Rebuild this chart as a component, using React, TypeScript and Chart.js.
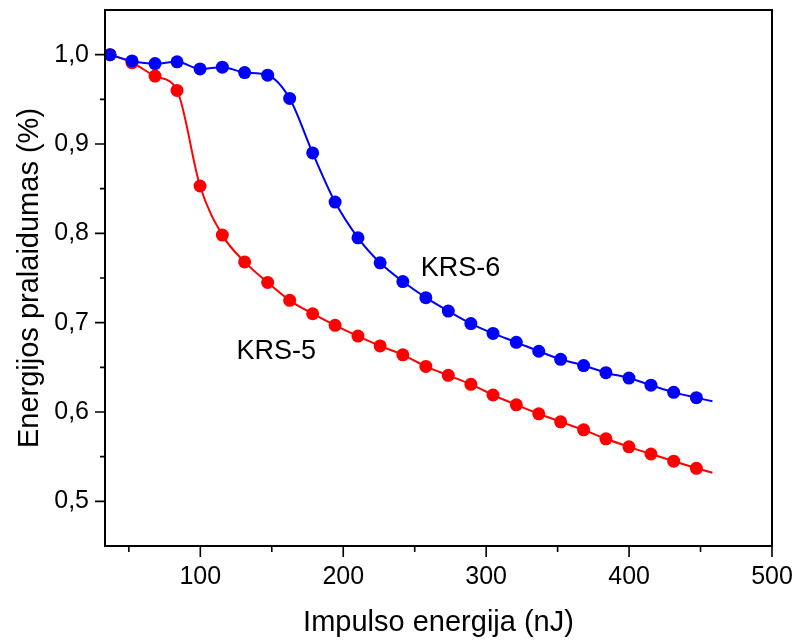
import React, { useEffect, useRef } from "react";
import { Chart, registerables } from "chart.js";

Chart.register(...registerables);

// Data
const energy = [
  36.8, 52.2, 68.3, 83.7, 99.8, 115.4, 131.0, 147.1, 162.5, 178.6, 194.3, 210.3, 225.8, 241.7,
  257.8, 273.5, 289.3, 304.8, 321.1, 336.8, 352.1, 368.2, 383.8, 399.9, 415.3, 431.2, 447.1,
];
const krs6 = [
  1.0, 0.993, 0.99, 0.992, 0.984, 0.986, 0.98, 0.977, 0.951, 0.89, 0.835, 0.795, 0.767, 0.746,
  0.728, 0.713, 0.699, 0.688, 0.678, 0.668, 0.659, 0.652, 0.644, 0.638, 0.63, 0.622, 0.616,
];
const krs5 = [
  1.0, 0.991, 0.976, 0.96, 0.853, 0.798, 0.768, 0.745, 0.725, 0.71, 0.697, 0.685, 0.674, 0.664,
  0.651, 0.641, 0.631, 0.619, 0.608, 0.598, 0.589, 0.58, 0.57, 0.561, 0.553, 0.545, 0.537,
];
// end of the fitted curves (beyond the last marker)
const curveEndX = 458.3;
const krs6CurveEnd = 0.612;
const krs5CurveEnd = 0.532;

const xMajorTicks = [100, 200, 300, 400, 500];
const xMinorTicks = [50, 150, 250, 350, 450];
const yMajorTicks = [0.5, 0.6, 0.7, 0.8, 0.9, 1.0];
const yMinorTicks = [0.55, 0.65, 0.75, 0.85, 0.95];

const seriesLabels = [
  { text: "KRS-6", x: 282.1, y: 0.7606 },
  { text: "KRS-5", x: 153.2, y: 0.6678 },
];

const FONT = "'Liberation Sans', Arial, sans-serif";

export default function App() {
  const ref = useRef<HTMLCanvasElement | null>(null);

  useEffect(() => {
    if (!ref.current) return;
    const pts = (ys: number[]) => energy.map((x, i) => ({ x, y: ys[i] }));
    const curve = (ys: number[], endY: number) => [...pts(ys), { x: curveEndX, y: endY }];

    const framePlugin = {
      id: "frameTicks",
      afterDraw(chart: any) {
        const { ctx, chartArea: a, scales } = chart;
        const xs = scales.x;
        const ys = scales.y;
        ctx.save();
        ctx.strokeStyle = "#000";
        ctx.lineWidth = 2;
        ctx.strokeRect(a.left, a.top, a.right - a.left, a.bottom - a.top);
        ctx.lineWidth = 1.6;
        ctx.beginPath();
        const tx = (v: number, len: number) => {
          const p = xs.getPixelForValue(v);
          ctx.moveTo(p, a.bottom);
          ctx.lineTo(p, a.bottom + len);
        };
        const ty = (v: number, len: number) => {
          const p = ys.getPixelForValue(v);
          ctx.moveTo(a.left, p);
          ctx.lineTo(a.left - len, p);
        };
        xMajorTicks.forEach((v) => tx(v, 11));
        xMinorTicks.forEach((v) => tx(v, 6));
        yMajorTicks.forEach((v) => ty(v, 10));
        yMinorTicks.forEach((v) => ty(v, 5));
        ctx.stroke();

        ctx.fillStyle = "#000";
        ctx.font = `27px ${FONT}`;
        ctx.textAlign = "center";
        ctx.textBaseline = "middle";
        seriesLabels.forEach((l) => {
          ctx.fillText(l.text, xs.getPixelForValue(l.x), ys.getPixelForValue(l.y));
        });
        ctx.restore();
      },
    };

    const chart = new Chart(ref.current, {
      type: "scatter",
      data: {
        datasets: [
          {
            label: "KRS-6 points",
            data: pts(krs6),
            backgroundColor: "#0000ff",
            borderColor: "#0000ff",
            pointRadius: 6.5,
            pointBorderWidth: 0,
            showLine: false,
          },
          {
            label: "KRS-6",
            data: curve(krs6, krs6CurveEnd),
            borderColor: "#0000ff",
            borderWidth: 2,
            pointRadius: 0,
            showLine: true,
            cubicInterpolationMode: "monotone",
          },
          {
            label: "KRS-5 points",
            data: pts(krs5),
            backgroundColor: "#ff0000",
            borderColor: "#ff0000",
            pointRadius: 6.5,
            pointBorderWidth: 0,
            showLine: false,
          },
          {
            label: "KRS-5",
            data: curve(krs5, krs5CurveEnd),
            borderColor: "#ff0000",
            borderWidth: 2,
            pointRadius: 0,
            showLine: true,
            cubicInterpolationMode: "monotone",
          },
        ],
      },
      options: {
        animation: false,
        responsive: true,
        maintainAspectRatio: false,
        layout: { padding: { top: 10, right: 26, left: 0, bottom: 0 } },
        plugins: { legend: { display: false }, tooltip: { enabled: false } },
        scales: {
          x: {
            type: "linear",
            min: 33.3,
            max: 500,
            grid: { display: false, drawTicks: false },
            border: { display: false },
            afterBuildTicks: (s: any) => {
              s.ticks = xMajorTicks.map((v) => ({ value: v }));
            },
            afterFit: (s: any) => {
              s.height = 95;
              s.paddingLeft = 0;
              s.paddingRight = 0;
              s.paddingTop = 0;
              s.paddingBottom = 0;
            },
            ticks: {
              color: "#000",
              padding: 16,
              maxRotation: 0,
              font: { family: FONT, size: 25 },
              callback: (v: any) => String(v),
            },
            title: {
              display: true,
              text: "Impulso energija (nJ)",
              color: "#000",
              font: { family: FONT, size: 29 },
              padding: { top: 0, bottom: 1 },
            },
          },
          y: {
            type: "linear",
            min: 0.45,
            max: 1.05,
            grid: { display: false, drawTicks: false },
            border: { display: false },
            afterBuildTicks: (s: any) => {
              s.ticks = yMajorTicks.map((v) => ({ value: v }));
            },
            afterFit: (s: any) => {
              s.width = 105;
              s.paddingLeft = 0;
              s.paddingRight = 0;
              s.paddingTop = 0;
              s.paddingBottom = 0;
            },
            ticks: {
              color: "#000",
              padding: 16,
              font: { family: FONT, size: 25 },
              callback: (v: any) => Number(v).toFixed(1).replace(".", ","),
            },
            title: {
              display: true,
              text: "Energijos pralaidumas (%)",
              color: "#000",
              font: { family: FONT, size: 29 },
              padding: { top: 13, bottom: 0 },
            },
          },
        },
      },
      plugins: [framePlugin],
    } as any);
    return () => chart.destroy();
  }, []);

  return (
    <div style={{ position: "fixed", left: 0, top: 0, width: 798, height: 641, background: "#fff" }}>
      <canvas ref={ref} />
    </div>
  );
}
